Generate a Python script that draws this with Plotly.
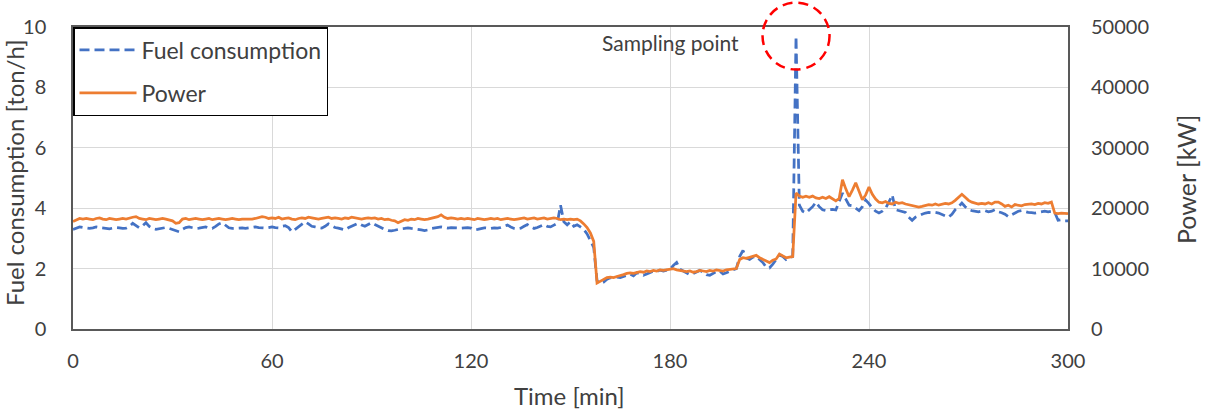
import plotly.graph_objects as go

# ---------------- data ----------------
time_min = list(range(0, 301))

fuel_ton_h = [
    3.30, 3.35, 3.38, 3.36, 3.34, 3.33, 3.35, 3.38, 3.36, 3.34,
    3.33, 3.32, 3.34, 3.36, 3.35, 3.33, 3.34, 3.40, 3.50, 3.42,
    3.35, 3.42, 3.52, 3.40, 3.33, 3.30, 3.32, 3.34, 3.36, 3.33,
    3.30, 3.26, 3.22, 3.30, 3.36, 3.38, 3.36, 3.33, 3.34, 3.36,
    3.38, 3.34, 3.33, 3.40, 3.48, 3.52, 3.42, 3.35, 3.33, 3.34,
    3.36, 3.35, 3.33, 3.34, 3.36, 3.38, 3.36, 3.35, 3.34, 3.36,
    3.38, 3.36, 3.35, 3.40, 3.42, 3.36, 3.22, 3.30, 3.38, 3.45,
    3.55, 3.48, 3.40, 3.38, 3.36, 3.34, 3.40, 3.48, 3.42, 3.36,
    3.34, 3.30, 3.28, 3.35, 3.40, 3.46, 3.50, 3.44, 3.40, 3.46,
    3.52, 3.46, 3.40, 3.36, 3.30, 3.26, 3.25, 3.27, 3.30, 3.32,
    3.33, 3.35, 3.33, 3.32, 3.30, 3.28, 3.26, 3.28, 3.33, 3.35,
    3.36, 3.38, 3.36, 3.34, 3.36, 3.35, 3.33, 3.34, 3.35, 3.36,
    3.34, 3.28, 3.30, 3.33, 3.35, 3.34, 3.33, 3.35, 3.34, 3.36,
    3.40, 3.44, 3.38, 3.33, 3.32, 3.34, 3.40, 3.46, 3.38, 3.33,
    3.36, 3.42, 3.46, 3.40, 3.38, 3.44, 3.50, 4.10, 3.55, 3.45,
    3.55, 3.40, 3.45, 3.38, 3.30, 3.15, 2.95, 2.70, 1.60, 1.50,
    1.55, 1.65, 1.70, 1.68, 1.72, 1.70, 1.74, 1.78, 1.82, 1.76,
    1.86, 1.84, 1.78, 1.82, 1.88, 1.92, 1.90, 1.95, 1.92, 1.96,
    1.98, 2.10, 2.20, 1.98, 1.92, 1.88, 1.80, 1.84, 1.90, 1.94,
    1.88, 1.80, 1.78, 1.84, 1.90, 1.92, 1.82, 1.86, 1.92, 1.96,
    2.00, 2.40, 2.60, 2.35, 2.30, 2.38, 2.40, 2.30, 2.20, 2.05,
    2.02, 2.15, 2.30, 2.45, 2.40, 2.30, 2.35, 2.40, 9.70, 4.10,
    3.90, 3.84, 3.95, 4.05, 4.20, 4.05, 3.95, 3.92, 3.95, 3.96,
    3.94, 4.20, 4.50, 4.30, 4.10, 4.08, 4.00, 3.92, 4.05, 4.27,
    4.15, 4.00, 3.90, 3.84, 3.90, 4.00, 4.20, 4.44, 3.95, 3.92,
    3.90, 3.86, 3.70, 3.60, 3.70, 3.76, 3.80, 3.84, 3.86, 3.85,
    3.86, 3.84, 3.80, 3.75, 3.70, 3.80, 3.95, 4.05, 4.17, 4.05,
    3.95, 3.92, 3.90, 3.88, 3.90, 3.92, 3.88, 3.90, 3.95, 3.88,
    3.85, 3.80, 3.72, 3.78, 3.85, 3.90, 3.92, 3.88, 3.86, 3.85,
    3.84, 3.86, 3.88, 3.90, 3.88, 3.90, 3.86, 3.60, 3.62, 3.58,
    3.58,
]

power_kw = [
    17800, 18100, 18300, 18200, 18300, 18200, 18100, 18300, 18400, 18200,
    18100, 18300, 18200, 18100, 18200, 18300, 18200, 18400, 18500, 18600,
    18300, 18200, 18100, 18300, 18200, 18100, 18200, 18300, 18200, 18000,
    17900, 17500, 17600, 18200, 18300, 18100, 18200, 18300, 18200, 18100,
    18200, 18300, 18100, 18200, 18300, 18200, 18100, 18200, 18300, 18200,
    18100, 18200, 18200, 18100, 18200, 18300, 18400, 18600, 18500, 18300,
    18400, 18300, 18500, 18200, 18300, 18400, 18200, 18100, 18300, 18400,
    18300, 18500, 18400, 18300, 18200, 18300, 18400, 18500, 18300, 18400,
    18300, 18200, 18400, 18300, 18500, 18400, 18300, 18200, 18300, 18400,
    18300, 18400, 18200, 18300, 18100, 18200, 18000, 17900, 17600, 17900,
    18100, 18000, 18200, 18100, 18300, 18200, 18100, 18200, 18300, 18400,
    18600, 18900, 18500, 18300, 18400, 18300, 18200, 18300, 18200, 18300,
    18200, 18100, 18300, 18200, 18100, 18200, 18300, 18200, 18300, 18100,
    18200, 18300, 18200, 18100, 18200, 18300, 18400, 18200, 18300, 18400,
    18200, 18300, 18400, 18200, 18300, 18400, 18300, 18100, 18200, 18100,
    18200, 18100, 18200, 17900, 17400, 16800, 15900, 14500, 7600, 7900,
    8200, 8500, 8600, 8500, 8700, 8800, 9000, 9200, 9300, 9200,
    9400, 9500, 9400, 9600, 9500, 9700, 9600, 9800, 9700, 9800,
    9900, 10000, 9800, 9700, 9600, 9500, 9600, 9400, 9500, 9700,
    9600, 9500, 9700, 9600, 9800, 9700, 9600, 9800, 9900, 9900,
    10000, 11500, 11800, 11700, 11900, 12000, 12200, 11800, 11500, 11200,
    11000, 11400, 11600, 12400, 12100, 11800, 11900, 12000, 22500, 22000,
    21800, 22000, 21800, 22000, 21700, 21600, 21800, 21600, 21900, 21500,
    21200, 21600, 24700, 23200, 21900, 23000, 24200, 22800, 21400, 22200,
    23500, 22300, 21500, 21000, 20900, 21100, 20800, 20700, 21000, 20800,
    20900, 20700, 20600, 20400, 20300, 20200, 20300, 20400, 20600, 20500,
    20700, 20500, 20600, 20800, 20700, 20900, 21300, 21800, 22300, 21800,
    21300, 21000, 20900, 20700, 20800, 20700, 20900, 20700, 21000, 21000,
    20700, 20300, 20500, 20200, 20600, 20500, 20400, 20600, 20700, 20700,
    20600, 20800, 20700, 20900, 20800, 21000, 19200, 19100, 19200, 19100,
    19100,
]

x_ticks = [0, 60, 120, 180, 240, 300]
y_ticks = [0, 2, 4, 6, 8, 10]
y2_ticks = [0, 10000, 20000, 30000, 40000, 50000]
sample_time = 218
sample_label = "Sampling point"
x_title = "Time [min]"
y_title = "Fuel consumption [ton/h]"
y2_title = "Power [kW]"

# ---------------- figure ----------------
FONT = "Lato"
TXT = "#404040"
GRID = "#D9D9D9"
FRAME = "#595959"
BLUE = "#4472C4"
ORANGE = "#ED7D31"

W, H = 1207, 411
ML, MR, MT, MB = 73, 139, 27, 82
plot_w = W - ML - MR
plot_h = H - MT - MB

fig = go.Figure()
fig.add_trace(go.Scatter(
    x=time_min, y=fuel_ton_h, name="Fuel consumption", mode="lines",
    line=dict(color=BLUE, width=2.75, dash="10px,5px"),
    legendgroup="a", yaxis="y"))
fig.add_trace(go.Scatter(
    x=time_min, y=power_kw, name="Power", mode="lines",
    line=dict(color=ORANGE, width=2.75),
    legendgroup="b", yaxis="y2"))

x_rng = [0, 300]
y_rng = [0, 10]

# red dashed circle around the sampling point (paper coords derived from data)
sx = (sample_time - x_rng[0]) / (x_rng[1] - x_rng[0])
peak = fuel_ton_h[time_min.index(sample_time)]
sy = (peak - y_rng[0]) / (y_rng[1] - y_rng[0])
rpx = 33.5
fig.add_shape(type="circle", xref="paper", yref="paper",
              x0=sx - rpx / plot_w, x1=sx + rpx / plot_w,
              y0=sy - rpx / plot_h, y1=sy + rpx / plot_h,
              line=dict(color="#FF0000", width=2.5, dash="10px,6px"),
              layer="above")

fig.add_annotation(x=180, y=9.5, xref="x", yref="y", text=sample_label,
                   showarrow=False, font=dict(family=FONT, size=21, color=TXT))

# axis titles
fig.add_annotation(x=(569 - ML) / plot_w, y=(MT + plot_h - 395) / plot_h,
                   xref="paper", yref="paper", text=x_title, showarrow=False,
                   xanchor="center", yanchor="middle",
                   font=dict(family=FONT, size=24, color=TXT))
fig.add_annotation(x=(14 - ML) / plot_w, y=(MT + plot_h - 173) / plot_h,
                   xref="paper", yref="paper", text=y_title, showarrow=False,
                   textangle=-90, xanchor="center", yanchor="middle",
                   font=dict(family=FONT, size=24, color=TXT))
fig.add_annotation(x=(1186 - ML) / plot_w, y=(MT + plot_h - 180) / plot_h,
                   xref="paper", yref="paper", text=y2_title, showarrow=False,
                   textangle=-90, xanchor="center", yanchor="middle",
                   font=dict(family=FONT, size=25, color=TXT))

axis_common = dict(showgrid=True, gridcolor=GRID, gridwidth=1, zeroline=False,
                   tickfont=dict(family=FONT, size=20, color=TXT),
                   showline=True, linecolor=FRAME, linewidth=1.5, ticks="")

fig.update_layout(
    width=W, height=H,
    margin=dict(l=ML, r=MR, t=MT, b=MB),
    paper_bgcolor="white", plot_bgcolor="white",
    font=dict(family=FONT, color=TXT),
    xaxis=dict(range=x_rng, tickvals=x_ticks, mirror=True,
               ticklabelstandoff=13, **axis_common),
    yaxis=dict(range=y_rng, tickvals=y_ticks, mirror=True,
               ticklabelstandoff=21, **axis_common),
    yaxis2=dict(range=[0, 50000], tickvals=y2_ticks, overlaying="y", side="right",
                tickformat="d", ticklabelstandoff=22, showgrid=False, zeroline=False,
                tickfont=dict(family=FONT, size=20, color=TXT), ticks=""),
    legend=dict(x=0, y=1, xanchor="left", yanchor="top",
                bordercolor="#000000", borderwidth=1.5, bgcolor="white",
                font=dict(family=FONT, size=23, color=TXT),
                traceorder="grouped", tracegroupgap=10, itemwidth=57),
    showlegend=True,
)

fig.write_html("out.html")
